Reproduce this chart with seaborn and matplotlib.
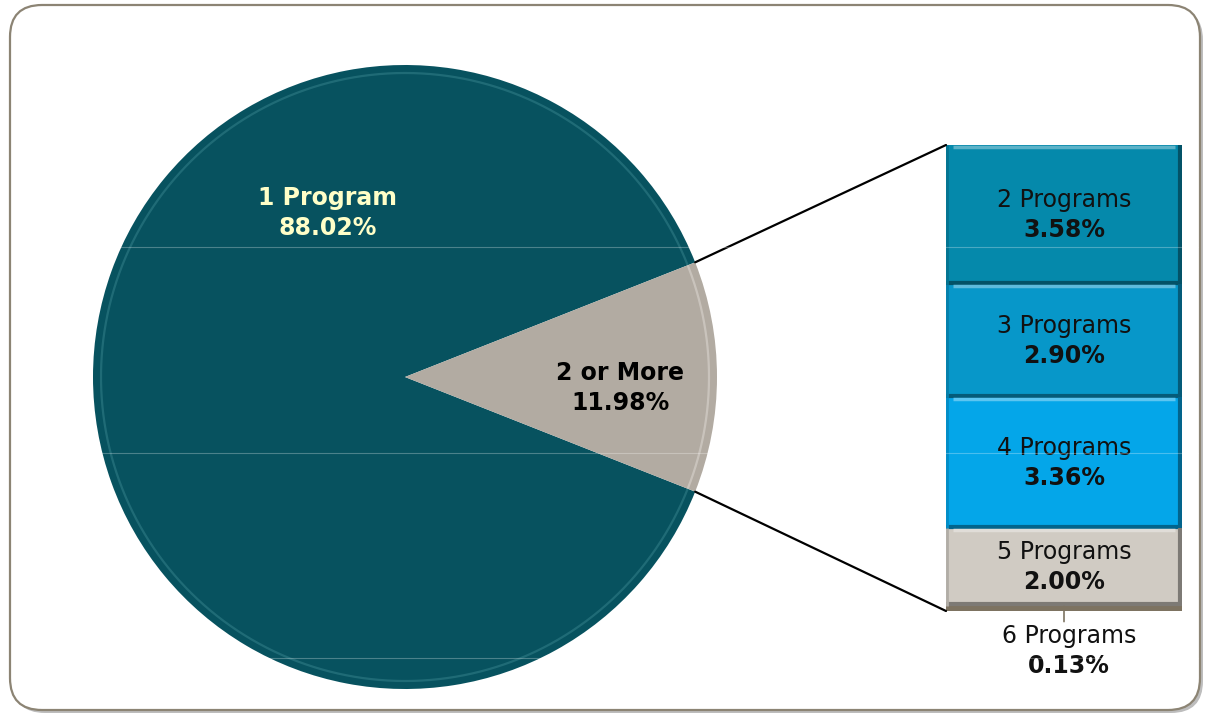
import matplotlib
matplotlib.use("Agg")
import matplotlib.pyplot as plt
import seaborn as sns
import numpy as np
from matplotlib.patches import FancyBboxPatch, ConnectionPatch
from matplotlib.lines import Line2D

# ---- data ----
pie_labels = ["1 Program", "2 or More"]
pie_values = [88.02, 11.98]
pie_colors = ["#07525F", "#B2ABA2"]

bar_labels = ["2 Programs", "3 Programs", "4 Programs", "5 Programs", "6 Programs"]
bar_values = [3.58, 2.90, 3.36, 2.00, 0.13]
bar_colors = ["#0589AB", "#0797C9", "#04A6E9", "#D0CBC3", "#7D7361"]

sns.set_theme(style="white")
plt.rcParams['font.family'] = ['DejaVu Sans']

W, H = 1209, 717
fig = plt.figure(figsize=(W / 100, H / 100), dpi=100)
fig.patch.set_facecolor("white")

ax = fig.add_axes([0, 0, 1, 1])

# rounded frame with shadow
shadow = FancyBboxPatch((13, 4), 1190, 705, boxstyle="round,pad=0,rounding_size=32",
                        facecolor="#BDBDBD", edgecolor="none", zorder=0)
frame = FancyBboxPatch((10, 7), 1190, 705, boxstyle="round,pad=0,rounding_size=32",
                       facecolor="white", edgecolor="#8C8474", linewidth=1.6, zorder=0.5)
ax.add_patch(shadow)
ax.add_patch(frame)

# pie
pc = (405, 340)
pr = 312
start = pie_values[1] / 100 * 360 / 2
wedges, _ = ax.pie(pie_values, colors=pie_colors, startangle=start, center=pc, radius=pr,
                   counterclock=True, wedgeprops=dict(linewidth=0, zorder=1))
# subtle bevel ring
for w, c in zip(wedges, ["#3E8A93", "#E6E2DC"]):
    th = np.radians(np.linspace(w.theta1, w.theta2, 200))
    ax.plot(pc[0] + (pr - 8) * np.cos(th), pc[1] + (pr - 8) * np.sin(th),
            color=c, lw=1.6, alpha=0.45, zorder=2, solid_capstyle="butt")
ax.set_xlim(0, W)
ax.set_ylim(0, H)
ax.axis("off")

GAP = 10.8  # half line gap in points


def two_line(axis, x, y, top, bottom, color, top_bold, size=17, clip=False):
    axis.annotate(top, (x, y), xytext=(0, GAP), textcoords="offset points",
                  ha="center", va="center", fontsize=size, color=color,
                  fontweight="bold" if top_bold else "normal", zorder=5,
                  annotation_clip=clip)
    axis.annotate(bottom, (x, y), xytext=(0, -GAP), textcoords="offset points",
                  ha="center", va="center", fontsize=size, color=color,
                  fontweight="bold", zorder=5, annotation_clip=clip)


# pie labels (pixel y converted to data y)
two_line(ax, 328, H - 213, pie_labels[0], f"{pie_values[0]:.2f}%", "#FFFFC8", True)
two_line(ax, 620, H - 388, pie_labels[1], f"{pie_values[1]:.2f}%", "black", True)

# bar of pie
total = sum(bar_values)
bx0, bx1, by_top, by_bot = 946, 1182, 145, 611
bax = fig.add_axes([bx0 / W, (H - by_bot) / H, (bx1 - bx0) / W, (by_bot - by_top) / H])
tops = total - np.concatenate([[0], np.cumsum(bar_values)[:-1]])
bottoms = tops - np.array(bar_values)
bax.bar(np.zeros(len(bar_values)), bar_values, bottom=bottoms, width=1.0,
        color=bar_colors, edgecolor="none", align="center")
# bevel hints
for b, t, c in zip(bottoms, tops, bar_colors):
    rgb = np.array(matplotlib.colors.to_rgb(c))
    dark = rgb * 0.6
    light = np.clip(rgb + (1 - rgb) * 0.35, 0, 1)
    if t - b > 0.5:
        bax.plot([-0.47, 0.47], [t - 0.05, t - 0.05], color=light, lw=2.5, solid_capstyle="butt")
        bax.plot([-0.5, 0.5], [b + 0.04, b + 0.04], color=dark, lw=3, solid_capstyle="butt")
        bax.plot([0.49, 0.49], [b, t], color=dark, lw=3, solid_capstyle="butt")
        bax.plot([-0.495, -0.495], [b, t], color=rgb * 0.85, lw=2, solid_capstyle="butt")
bax.set_xlim(-0.5, 0.5)
bax.set_ylim(0, total)
bax.axis("off")

for lab, v, b, t in zip(bar_labels[:-1], bar_values[:-1], bottoms[:-1], tops[:-1]):
    two_line(bax, 0, (b + t) / 2, lab, f"{v:.2f}%", "#111111", False)

# 6 Programs label below bar with leader
bax.annotate("", (0.0, bottoms[-1] + 0.12), xytext=(0, -11), textcoords="offset points",
             arrowprops=dict(arrowstyle="-", color="#7D7361", lw=1.2, shrinkA=0, shrinkB=0),
             annotation_clip=False)
bax.annotate(bar_labels[-1], (0.02, 0), xytext=(0, -18), textcoords="offset points",
             ha="center", va="center", fontsize=17, color="#111111", annotation_clip=False)
bax.annotate(f"{bar_values[-1]:.2f}%", (0.02, 0), xytext=(0, -39.6), textcoords="offset points",
             ha="center", va="center", fontsize=17, fontweight="bold", color="#111111",
             annotation_clip=False)

# connector lines from the small wedge to the bar
w2 = wedges[1]
for ang, yb in [(w2.theta2, total), (w2.theta1, 0)]:
    p = (pc[0] + pr * np.cos(np.radians(ang)), pc[1] + pr * np.sin(np.radians(ang)))
    con = ConnectionPatch(xyA=p, coordsA=ax.transData, xyB=(-0.5, yb), coordsB=bax.transData,
                          color="black", lw=1.6)
    fig.add_artist(con)

# faint gridlines
for gy in [247, 453, 658]:
    fig.add_artist(Line2D([12 / W, 1198 / W], [(H - gy) / H] * 2, transform=fig.transFigure,
                          color="white", alpha=0.28, lw=0.8, zorder=10))

fig.savefig("out.png", dpi=100, facecolor="white")
